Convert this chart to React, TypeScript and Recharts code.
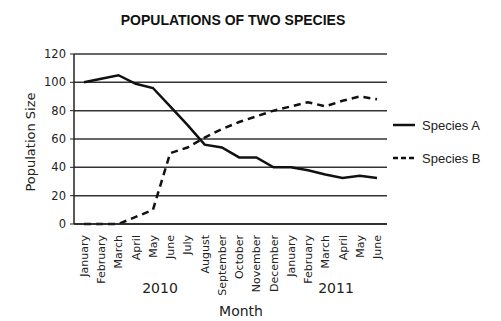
import { LineChart, Line, XAxis, YAxis, CartesianGrid } from 'recharts';

const MONTHS = [
  'January', 'February', 'March', 'April', 'May', 'June', 'July', 'August', 'September',
  'October', 'November', 'December', 'January', 'February', 'March', 'April', 'May', 'June',
];
const SPECIES_A = [100, 102.5, 105, 99, 96, 83, 70, 56, 54, 47, 47, 40, 40, 38, 35, 32.5, 34, 32.5];
const SPECIES_B = [0, 0, 0, 5, 10, 50, 54, 61, 67, 72, 76, 80, 83, 86, 83, 87, 90, 88];
const Y_TICKS = [0, 20, 40, 60, 80, 100, 120];

const data = MONTHS.map((month, i) => ({ key: `${month}-${i}`, month, a: SPECIES_A[i], b: SPECIES_B[i] }));

const FONT = '"DejaVu Sans", Verdana, sans-serif';

function MonthTick(props: any) {
  const { x, y, payload } = props;
  const label = MONTHS[payload.index] ?? '';
  return (
    <text
      x={x}
      y={y}
      transform={`rotate(-90 ${x} ${y})`}
      dx={-3}
      dy={4}
      textAnchor="end"
      fontSize={11}
      fontFamily={FONT}
      fill="#222"
    >
      {label}
    </text>
  );
}

export default function App() {
  return (
    <div style={{ position: 'fixed', left: 0, top: 0, width: 501, height: 321, background: '#fff', fontFamily: FONT }}>
      <div
        style={{
          position: 'absolute', left: 233, top: 12, transform: 'translateX(-50%)', whiteSpace: 'nowrap',
          fontSize: 14, fontWeight: 'bold', color: '#111', fontFamily: '"Liberation Sans", Arial, sans-serif',
        }}
      >
        POPULATIONS OF TWO SPECIES
      </div>
      <LineChart width={501} height={321} data={data} margin={{ top: 54, right: 114, bottom: 0, left: 0 }}>
        <CartesianGrid vertical={false} horizontal stroke="#333" strokeWidth={1.5} />
        <XAxis
          dataKey="key"
          interval={0}
          padding={{ left: 10, right: 10 }}
          tick={<MonthTick />}
          tickLine={false}
          axisLine={{ stroke: '#222', strokeWidth: 1.5 }}
          height={97}
        />
        <YAxis
          width={74}
          domain={[0, 120]}
          ticks={Y_TICKS}
          interval={0}
          tickSize={4}
          tickMargin={4}
          tickLine={{ stroke: '#222' }}
          axisLine={{ stroke: '#222', strokeWidth: 1.5 }}
          tick={{ fontSize: 11.5, fill: '#222', fontFamily: FONT }}
        />
        <Line isAnimationActive={false} type="linear" dataKey="a" stroke="#111" strokeWidth={2.5} dot={false} />
        <Line isAnimationActive={false} type="linear" dataKey="b" stroke="#111" strokeWidth={2.5} strokeDasharray="7 5" dot={false} />
      </LineChart>
      <div
        style={{
          position: 'absolute', left: 30, top: 142, transform: 'translate(-50%, -50%) rotate(-90deg)',
          fontSize: 13, color: '#222', whiteSpace: 'nowrap',
        }}
      >
        Population Size
      </div>
      <div style={{ position: 'absolute', left: 160, top: 280, transform: 'translateX(-50%)', fontSize: 14, color: '#222' }}>2010</div>
      <div style={{ position: 'absolute', left: 336, top: 280, transform: 'translateX(-50%)', fontSize: 14, color: '#222' }}>2011</div>
      <div style={{ position: 'absolute', left: 241, top: 303, transform: 'translateX(-50%)', fontSize: 14, color: '#222' }}>Month</div>
      <div style={{ position: 'absolute', left: 393, top: 116, fontSize: 12, color: '#222', fontFamily: '"Liberation Sans", Arial, sans-serif' }}>
        <div style={{ display: 'flex', alignItems: 'center', height: 18 }}>
          <svg width={24} height={4}><line x1={0} y1={2} x2={22} y2={2} stroke="#111" strokeWidth={2.5} /></svg>
          <span style={{ marginLeft: 5, fontSize: 13 }}>Species A</span>
        </div>
        <div style={{ display: 'flex', alignItems: 'center', height: 18, marginTop: 15 }}>
          <svg width={24} height={4}><line x1={0} y1={2} x2={22} y2={2} stroke="#111" strokeWidth={2.5} strokeDasharray="5 3" /></svg>
          <span style={{ marginLeft: 5, fontSize: 13 }}>Species B</span>
        </div>
      </div>
    </div>
  );
}
